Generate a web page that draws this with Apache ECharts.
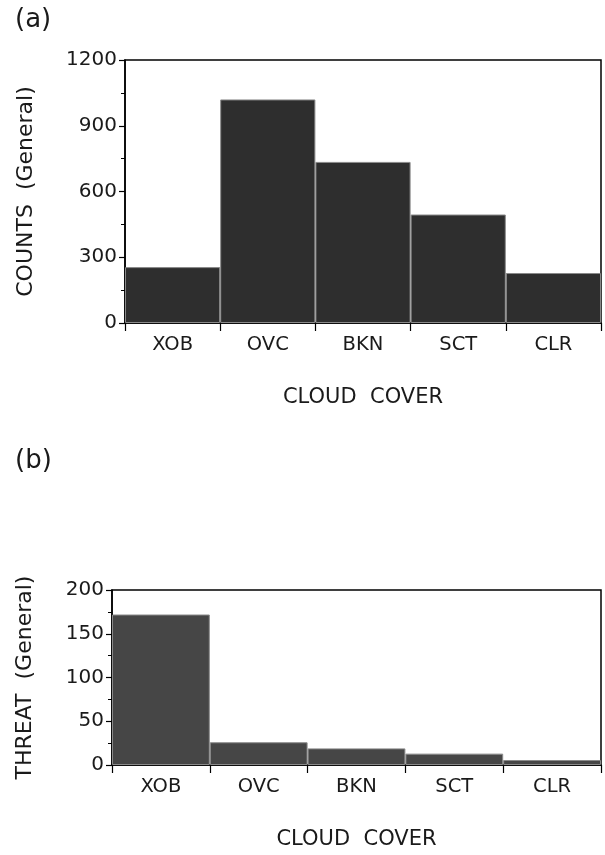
<!DOCTYPE html>
<html lang="en">
<head>
<meta charset="UTF-8">
<title>Cloud cover</title>
<style>
  html, body { margin: 0; padding: 0; background: #fff; }
  #container { width: 605px; height: 855px; }
</style>
</head>
<body>
<div id="container"></div>
<script src="https://cdn.jsdelivr.net/npm/echarts@6/dist/echarts.min.js"></script>
<script>
var categories = ['XOB', 'OVC', 'BKN', 'SCT', 'CLR'];
var countsGeneral = [255, 1020, 735, 495, 228];
var threatGeneral = [172, 26, 19, 13, 5.7];

var fontName = 'DejaVu Sans';

function xAxisFor(gridIndex) {
  return {
    type: 'category',
    gridIndex: gridIndex,
    data: categories,
    name: 'CLOUD  COVER',
    nameLocation: 'middle',
    nameGap: 64,
    nameTextStyle: { fontFamily: fontName, fontSize: 21, color: '#1a1a1a' },
    axisLine: { lineStyle: { color: '#000', width: 1.5 } },
    axisTick: { show: true, length: 8, lineStyle: { color: '#000', width: 1.2 } },
    axisLabel: { fontFamily: fontName, fontSize: 19.5, color: '#1a1a1a', margin: 12 },
    splitLine: { show: false }
  };
}

function yAxisFor(gridIndex, name, max, interval) {
  return {
    type: 'value',
    gridIndex: gridIndex,
    min: 0,
    max: max,
    interval: interval,
    name: name,
    nameLocation: 'middle',
    nameGap: gridIndex === 0 ? 88 : 76,
    nameTextStyle: { fontFamily: fontName, fontSize: 22, color: '#1a1a1a' },
    axisLine: { show: true, lineStyle: { color: '#000', width: 1.5 } },
    axisTick: { show: true, length: 6, lineStyle: { color: '#000', width: 1.2 } },
    minorTick: { show: true, splitNumber: 2, length: 4, lineStyle: { color: '#000', width: 1 } },
    axisLabel: { fontFamily: fontName, fontSize: 20, color: '#1a1a1a', margin: 8,
      formatter: function (v) { return String(v); } },
    splitLine: { show: false }
  };
}

var option = {
  animation: false,
  backgroundColor: '#fff',
  title: [
    { text: '(a)', left: 10, top: 2, textStyle: { fontFamily: fontName, fontSize: 26, fontWeight: 'normal', color: '#1a1a1a' } },
    { text: '(b)', left: 10, top: 443, textStyle: { fontFamily: fontName, fontSize: 26, fontWeight: 'normal', color: '#1a1a1a' } }
  ],
  grid: [
    { left: 125, top: 60, width: 476, height: 263, show: true, borderColor: '#000', borderWidth: 1.5, backgroundColor: 'transparent' },
    { left: 112, top: 590, width: 489, height: 175, show: true, borderColor: '#000', borderWidth: 1.5, backgroundColor: 'transparent' }
  ],
  xAxis: [xAxisFor(0), xAxisFor(1)],
  yAxis: [
    yAxisFor(0, 'COUNTS  (General)', 1200, 300),
    yAxisFor(1, 'THREAT  (General)', 200, 50)
  ],
  series: [
    {
      type: 'bar',
      xAxisIndex: 0,
      yAxisIndex: 0,
      data: countsGeneral,
      barCategoryGap: '0%',
      itemStyle: { color: '#2e2e2e', borderColor: '#8a8a8a', borderWidth: 1 }
    },
    {
      type: 'bar',
      xAxisIndex: 1,
      yAxisIndex: 1,
      data: threatGeneral,
      barCategoryGap: '0%',
      itemStyle: { color: '#464646', borderColor: '#8a8a8a', borderWidth: 1 }
    }
  ]
};

var myChart = echarts.init(document.getElementById('container'));
myChart.setOption(option);
</script>
</body>
</html>
